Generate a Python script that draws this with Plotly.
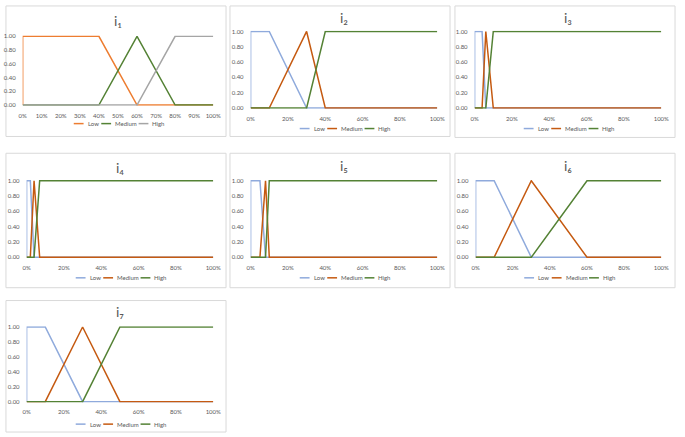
import plotly.graph_objects as go

# membership functions, one entry per panel (x in %)
panels = ["i₁", "i₂", "i₃", "i₄", "i₅", "i₆", "i₇"]

low_x = [[0, 0, 40, 60, 100], [0, 0, 10, 30, 100], [0, 0, 4, 6, 100], [0, 0, 2, 4, 100],
         [0, 0, 5, 8, 100], [0, 0, 10, 30, 100], [0, 0, 10, 30, 100]]
low_y = [0, 1, 1, 0, 0]

med_x = [[0, 40, 60, 80, 100], [0, 10, 30, 40, 100], [0, 4, 6, 10, 100], [0, 2, 4, 7, 100],
         [0, 5, 8, 10, 100], [0, 10, 30, 60, 100], [0, 10, 30, 50, 100]]
med_y = [0, 0, 1, 0, 0]

high_x = [[0, 60, 80, 100], [0, 30, 40, 100], [0, 6, 10, 100], [0, 4, 7, 100],
          [0, 8, 10, 100], [0, 30, 60, 100], [0, 30, 50, 100]]
high_y = [0, 0, 1, 1]

series_names = ["Low", "Medium", "High"]
y_ticks = [0, 0.2, 0.4, 0.6, 0.8, 1.0]
x_ticks_first = [0, 10, 20, 30, 40, 50, 60, 70, 80, 90, 100]
x_ticks_other = [0, 20, 40, 60, 80, 100]

# colori (il primo grafico ha una palette diversa)
colors_first = ["#ED7D31", "#548235", "#A5A5A5"]
colors_other = ["#8FAADC", "#C55A11", "#548235"]

W, H = 685, 437
# plot area in pixels: x0, x1, ytop, ybottom
areas = [(19, 213, 33, 104), (251, 441, 28, 107), (479, 669, 28, 107),
         (23, 213, 179, 258), (251, 441, 179, 258), (480, 669, 179, 258),
         (23, 213, 327, 404)]
boxes = [(2, 226, 3, 135), (230, 454, 3, 135), (459, 683, 3, 136),
         (2, 226, 152, 288), (230, 454, 152, 288), (459, 683, 152, 288),
         (2, 226, 301, 434)]
title_y = [18, 15, 15, 166, 164, 164, 312]
legend_y = [122, 127, 127, 278, 278, 278, 426]
# legenda fatta a mano: inizio linea e inizio testo rispetto al centro
leg_line = [-45, -17, 21]
leg_text = [-33, -5, 33]
leg_len = 10

txt = "#595959"
font = "Lato, Carlito, 'Liberation Sans', sans-serif"

fig = go.Figure()
layout = dict(width=W, height=H, margin=dict(l=0, r=0, t=0, b=0), showlegend=False,
              paper_bgcolor="white", plot_bgcolor="white",
              font=dict(family=font, size=6, color=txt), shapes=[], annotations=[])

for i, p in enumerate(panels):
    n = "" if i == 0 else str(i + 1)
    cols = colors_first if i == 0 else colors_other
    xs = [low_x[i], med_x[i], high_x[i]]
    ys = [low_y, med_y, high_y]
    for k in range(3):
        fig.add_trace(go.Scatter(x=xs[k], y=ys[k], mode="lines", name=series_names[k],
                                 line=dict(color=cols[k], width=1.5),
                                 xaxis="x" + n, yaxis="y" + n))
    x0, x1, yt, yb = areas[i]
    xt = x_ticks_first if i == 0 else x_ticks_other
    layout["xaxis" + n] = dict(domain=[x0 / W, x1 / W], anchor="y" + n, range=[0, 100],
                               tickvals=xt, ticktext=[f"{v}%" for v in xt],
                               showgrid=False, zeroline=False, showline=False,
                               ticks="", ticklabelstandoff=5, fixedrange=True)
    layout["yaxis" + n] = dict(domain=[1 - yb / H, 1 - yt / H], anchor="x" + n,
                               range=[-0.01, 1.01], tickvals=y_ticks, tickformat=".2f",
                               showgrid=False, zeroline=False, showline=False,
                               ticks="", ticklabelstandoff=6, fixedrange=True)
    bx0, bx1, by0, by1 = boxes[i]
    layout["shapes"].append(dict(type="rect", xref="paper", yref="paper",
                                 x0=bx0 / W, x1=bx1 / W, y0=1 - by1 / H, y1=1 - by0 / H,
                                 line=dict(color="#D9D9D9", width=1), layer="below"))
    layout["annotations"].append(dict(text=p, xref="paper", yref="paper",
                                      x=(x0 + x1) / 2 / W, y=1 - title_y[i] / H,
                                      xanchor="center", yanchor="middle", showarrow=False,
                                      font=dict(size=14, color=txt)))
    cx = (x0 + x1) / 2
    ly = 1 - legend_y[i] / H
    for k in range(3):
        layout["shapes"].append(dict(type="line", xref="paper", yref="paper",
                                     x0=(cx + leg_line[k]) / W, x1=(cx + leg_line[k] + leg_len) / W,
                                     y0=ly, y1=ly, line=dict(color=cols[k], width=1.5)))
        layout["annotations"].append(dict(text=series_names[k], xref="paper", yref="paper",
                                          x=(cx + leg_text[k]) / W, y=ly, xanchor="left",
                                          yanchor="middle", showarrow=False,
                                          font=dict(size=6, color=txt)))

fig.update_layout(**layout)
# togliere il margine del body, altrimenti la figura si sposta
fig.write_html("out.html", config={"displayModeBar": False},
               post_script="document.body.style.margin='0';document.body.style.overflow='hidden';")
